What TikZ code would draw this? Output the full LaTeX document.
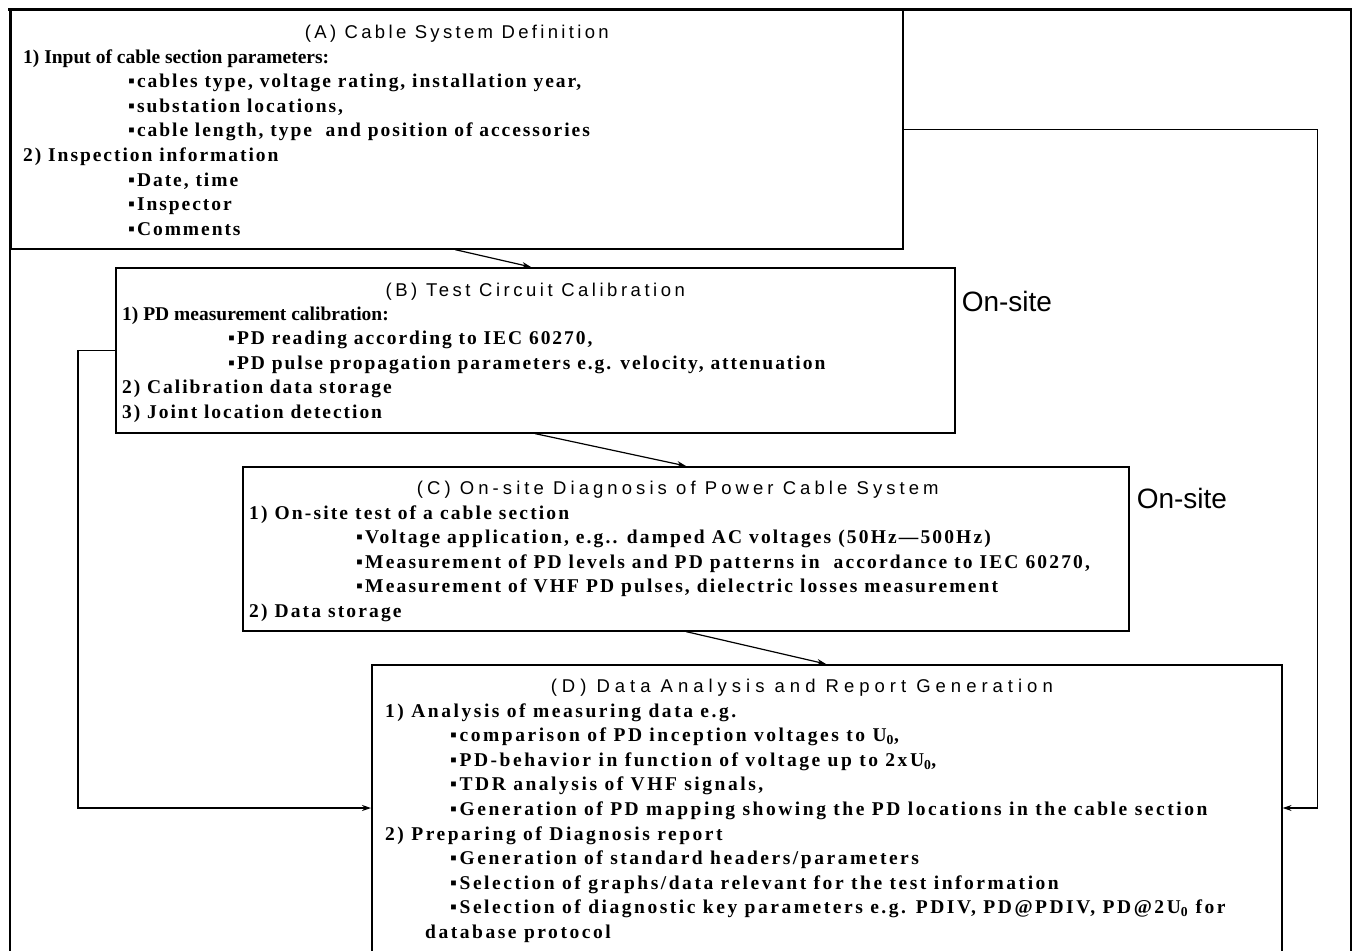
\documentclass[tikz,border=0pt]{standalone}
\usepackage{fontspec}
\setmainfont{Liberation Serif}
\newfontfamily\titlefont{Liberation Sans}
\newfontfamily\labelfont{Liberation Sans}
\newfontfamily\spacedfont{Liberation Serif}
\usetikzlibrary{arrows.meta,calc}
\newcommand{\bul}{\char"25AA\relax}
\newcommand{\ind}[1]{\hspace*{#1}}
\newcommand{\tight}[1]{{\addfontfeature{LetterSpace=0}#1}}
\tikzset{
  box/.style={draw, line width=1.6pt, rectangle, anchor=north west, inner sep=0pt},
  conn/.style={line width=1.2pt},
  arr/.style={conn, -{Stealth[length=9pt,width=6pt]}},
  ttl/.style={anchor=base, inner sep=0pt},
  body/.style={anchor=base west, inner sep=0pt},
  onsite/.style={anchor=base west, inner sep=0pt, font=\labelfont\fontsize{28}{32}\selectfont},
}
\newcommand{\ttltext}[2]{{\titlefont\fontsize{18.5}{22}\selectfont\addfontfeature{LetterSpace=#1}#2}}
\newcommand{\bodytext}[2]{\parbox[t]{1000pt}{\raggedright\spacedfont\bfseries\fontsize{19.5}{24.6}\selectfont\addfontfeature{LetterSpace=#1}#2}}
\begin{document}
\begin{tikzpicture}[x=1pt,y=-1pt]
\useasboundingbox (0,0) rectangle (1353,951);
\clip (0,0) rectangle (1353,951);
% frame
\draw[line width=1.6pt] (10,970) -- (10,9);
\draw[line width=3pt] (8,9) -- (1352,9);
\draw[line width=1.6pt] (1351,9) -- (1351,970);
% boxes
\node[box, minimum width=892pt, minimum height=239pt] (A) at (10,9) {};
\node[box, minimum width=839pt, minimum height=165pt] (B) at (115,267) {};
\node[box, minimum width=886pt, minimum height=164pt] (C) at (242,466) {};
\node[box, minimum width=910pt, minimum height=320pt] (D) at (371,664) {};
% titles
\node[ttl] (At) at ($(A.north)+(0,29)$) {\ttltext{18}{(A) Cable System Definition}};
\node[ttl] (Bt) at ($(B.north)+(0,29)$) {\ttltext{19}{(B) Test Circuit Calibration}};
\node[ttl] (Ct) at ($(C.north)+(-8,28)$) {\ttltext{22}{(C) On-site Diagnosis of Power Cable System}};
\node[ttl] (Dt) at ($(D.north)+(-25,28)$) {\ttltext{27}{(D) Data Analysis and Report Generation}};
% bodies
\node[body] (Ab) at ($(A.north west)+(13,54)$) {\bodytext{10}{%
\tight{1) Input of cable section parameters:}\\
\ind{105pt}\bul cables type, voltage rating, installation year,\\
\ind{105pt}\bul substation locations,\\
\ind{105pt}\bul cable length, type\ \ and position of accessories\\
2) Inspection information\\
\ind{105pt}\bul Date, time\\
\ind{105pt}\bul Inspector\\
\ind{105pt}\bul Comments}};
\node[body] (Bb) at ($(B.north west)+(7,53)$) {\bodytext{10}{%
\tight{1) PD measurement calibration:}\\
\ind{106pt}\bul PD reading according to IEC 60270,\\
\ind{106pt}\bul PD pulse propagation parameters e.g. velocity, attenuation\\
2) Calibration data storage\\
3) Joint location detection}};
\node[body] (Cb) at ($(C.north west)+(7,53)$) {\bodytext{11}{%
1) On-site test of a cable section\\
\ind{107pt}\bul Voltage application, e.g.. damped AC voltages (50Hz—500Hz)\\
\ind{107pt}\bul Measurement of PD levels and PD patterns in\ \ accordance to IEC 60270,\\
\ind{107pt}\bul Measurement of VHF PD pulses, dielectric losses measurement\\
2) Data storage}};
\node[body] (Db) at ($(D.north west)+(14,53)$) {\bodytext{13}{%
1) Analysis of measuring data e.g.\\
\ind{65pt}\bul comparison of PD inception voltages to U\textsubscript{0},\\
\ind{65pt}\bul PD-behavior in function of voltage up to 2xU\textsubscript{0},\\
\ind{65pt}\bul TDR analysis of VHF signals,\\
\ind{65pt}\bul Generation of PD mapping showing the PD locations in the cable section\\
2) Preparing of Diagnosis report\\
\ind{65pt}\bul Generation of standard headers/parameters\\
\ind{65pt}\bul Selection of graphs/data relevant for the test information\\
\ind{65pt}\bul Selection of diagnostic key parameters e.g. PDIV, PD@PDIV, PD@2U\textsubscript{0} for\\
\ind{40pt}database protocol}};
% on-site labels
\node[onsite] (os1) at ($(B.north east)+(6,44)$) {On-site};
\node[onsite] (os2) at ($(C.north east)+(7,42)$) {On-site};
% connectors
\draw[arr] ($(A.south west)+(445,0)$) -- ($(B.north west)+(416,0)$);
\draw[arr] ($(B.south west)+(420,0)$) -- ($(C.north west)+(444,0)$);
\draw[arr] ($(C.south west)+(444,0)$) -- ($(D.north west)+(455,0)$);
\draw[arr] (B.west) -- ++(-37,0) |- ($(D.north west)+(0,144)$);
\draw[arr] (A.east) -- ++(414,0) |- ($(D.north east)+(0,144)$);
\end{tikzpicture}
\end{document}
